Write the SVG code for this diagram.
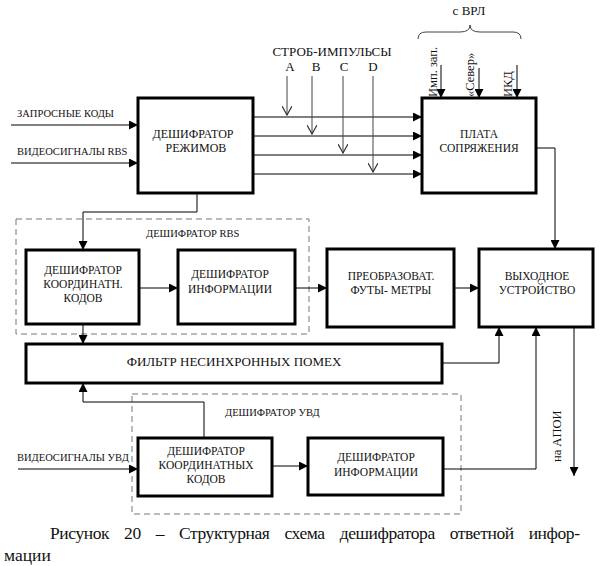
<svg xmlns="http://www.w3.org/2000/svg" width="603" height="566" viewBox="0 0 603 566">
<defs>
<marker id="af" viewBox="0 0 10 10" refX="10" refY="5" markerWidth="9" markerHeight="9" markerUnits="userSpaceOnUse" orient="auto">
<path d="M0,0 L10,5 L0,10 z" fill="#000"/>
</marker>
<marker id="ao" viewBox="0 0 10 10" refX="9" refY="5" markerWidth="10" markerHeight="10" markerUnits="userSpaceOnUse" orient="auto">
<path d="M0,0 L9,5 L0,10" fill="none" stroke="#333" stroke-width="1.2"/>
</marker>
<style>
.box{fill:#fff;stroke:#000;stroke-width:3}
.dash{fill:none;stroke:#777;stroke-width:1;stroke-dasharray:6 4}
.ln{fill:none;stroke:#000;stroke-width:1}
.gl{fill:none;stroke:#444;stroke-width:1}
.t{font-family:'Liberation Serif',serif;font-size:11.5px;text-anchor:middle;fill:#111}
.s{font-family:'Liberation Serif',serif;font-size:10.5px;fill:#111}
.m{font-family:'Liberation Serif',serif;font-size:12.5px;fill:#111}
.cap{font-family:'Liberation Serif',serif;font-size:17.5px;fill:#111}
</style>
</defs>
<rect width="603" height="566" fill="#fff"/>

<g id="rbs-group">
<rect class="dash" x="16" y="219" width="293" height="115"/>
<text class="s" x="146" y="237">ДЕШИФРАТОР RBS</text>
</g>
<g id="uvd-group">
<rect class="dash" x="132" y="394" width="329" height="120"/>
<text class="s" x="225" y="416">ДЕШИФРАТОР  УВД</text>
</g>

<g id="connectors">
<line class="ln" x1="11" y1="125" x2="138" y2="125" marker-end="url(#af)"/>
<line class="ln" x1="11" y1="163" x2="138" y2="163" marker-end="url(#af)"/>
<line class="ln" x1="253" y1="117" x2="422" y2="117" marker-end="url(#af)"/>
<line class="ln" x1="253" y1="136" x2="422" y2="136" marker-end="url(#af)"/>
<line class="ln" x1="253" y1="155" x2="422" y2="155" marker-end="url(#af)"/>
<line class="ln" x1="253" y1="174" x2="422" y2="174" marker-end="url(#af)"/>
<line class="gl" x1="287" y1="76" x2="287" y2="115" marker-end="url(#ao)"/>
<line class="gl" x1="312" y1="76" x2="312" y2="134" marker-end="url(#ao)"/>
<line class="gl" x1="343" y1="76" x2="343" y2="153" marker-end="url(#ao)"/>
<line class="gl" x1="373" y1="76" x2="373" y2="172" marker-end="url(#ao)"/>
<line class="ln" x1="441" y1="65" x2="441" y2="98" marker-end="url(#af)"/>
<line class="ln" x1="479" y1="68" x2="479" y2="98" marker-end="url(#af)"/>
<line class="ln" x1="517" y1="65" x2="517" y2="98" marker-end="url(#af)"/>
<polyline class="ln" points="536,148 555,148 555,249" marker-end="url(#af)"/>
<polyline class="ln" points="197,193 197,212 83,212 83,250" marker-end="url(#af)"/>
<line class="ln" x1="139" y1="288" x2="178" y2="288" marker-end="url(#af)"/>
<line class="ln" x1="295" y1="288" x2="327" y2="288" marker-end="url(#af)"/>
<line class="ln" x1="454" y1="288" x2="479" y2="288" marker-end="url(#af)"/>
<line class="ln" x1="83" y1="324" x2="83" y2="344" marker-end="url(#af)"/>
<polyline class="ln" points="442,363 499,363 499,327" marker-end="url(#af)"/>
<polyline class="ln" points="204,438 204,402 83,402 83,383" marker-end="url(#af)"/>
<line class="ln" x1="18" y1="469" x2="138" y2="469" marker-end="url(#af)"/>
<line class="ln" x1="272" y1="466" x2="308" y2="466" marker-end="url(#af)"/>
<polyline class="ln" points="443,469 536,469 536,327" marker-end="url(#af)"/>
<line class="ln" x1="574" y1="327" x2="574" y2="476" marker-end="url(#af)"/>
<path class="gl" d="M418,39 Q418,32 426,32 L460,32 Q470,32 470,25 Q470,32 480,32 L513,32 Q521,32 521,39"/>
</g>

<g id="labels">
<text class="s" x="17" y="117">ЗАПРОСНЫЕ  КОДЫ</text>
<text class="s" x="17" y="155">ВИДЕОСИГНАЛЫ RBS</text>
<text class="s" x="17" y="461">ВИДЕОСИГНАЛЫ УВД</text>
<text class="m" x="332" y="56" text-anchor="middle" style="font-size:13px">СТРОБ-ИМПУЛЬСЫ</text>
<text class="m" x="290" y="71" text-anchor="middle" style="font-size:13px">A</text>
<text class="m" x="316" y="71" text-anchor="middle" style="font-size:13px">B</text>
<text class="m" x="344" y="71" text-anchor="middle" style="font-size:13px">C</text>
<text class="m" x="373" y="71" text-anchor="middle" style="font-size:13px">D</text>
<text class="m" x="469" y="15" text-anchor="middle" style="font-size:13px">с ВРЛ</text>
<text class="m" transform="translate(437,97) rotate(-90)">Имп. зап.</text>
<text class="m" transform="translate(474,97) rotate(-90)">«Север»</text>
<text class="m" transform="translate(512,97) rotate(-90)">ИКД</text>
<text class="m" transform="translate(561,462) rotate(-90)">на  АПОИ</text>
</g>

<g id="mode-decoder">
<rect class="box" x="138" y="98" width="115" height="95"/>
<text class="t" x="193" y="138" style="font-size:12px">ДЕШИФРАТОР</text>
<text class="t" x="196" y="152" style="font-size:12px">РЕЖИМОВ</text>
</g>
<g id="interface-board">
<rect class="box" x="422" y="98" width="114" height="95"/>
<text class="t" x="479" y="138">ПЛАТА</text>
<text class="t" x="479" y="152">СОПРЯЖЕНИЯ</text>
</g>
<g id="rbs-coord">
<rect class="box" x="26" y="250" width="113" height="74"/>
<text class="t" x="83" y="274">ДЕШИФРАТОР</text>
<text class="t" x="83" y="288">КООРДИНАТН.</text>
<text class="t" x="83" y="302">КОДОВ</text>
</g>
<g id="rbs-info">
<rect class="box" x="178" y="250" width="117" height="74"/>
<text class="t" x="230" y="278">ДЕШИФРАТОР</text>
<text class="t" x="230" y="293">ИНФОРМАЦИИ</text>
</g>
<g id="converter">
<rect class="box" x="327" y="249" width="127" height="78"/>
<text class="t" x="391" y="280">ПРЕОБРАЗОВАТ.</text>
<text class="t" x="391" y="294">ФУТЫ- МЕТРЫ</text>
</g>
<g id="output-device">
<rect class="box" x="479" y="249" width="114" height="78"/>
<text class="t" x="537" y="280">ВЫХОДНОЕ</text>
<text class="t" x="537" y="294">УСТРОЙСТВО</text>
</g>
<g id="filter">
<rect class="box" x="26" y="344" width="416" height="39"/>
<text class="t" x="234" y="366" style="font-size:13px">ФИЛЬТР НЕСИНХРОННЫХ ПОМЕХ</text>
</g>
<g id="uvd-coord">
<rect class="box" x="138" y="438" width="134" height="58"/>
<text class="t" x="206" y="455">ДЕШИФРАТОР</text>
<text class="t" x="206" y="469">КООРДИНАТНЫХ</text>
<text class="t" x="206" y="483">КОДОВ</text>
</g>
<g id="uvd-info">
<rect class="box" x="308" y="438" width="135" height="57"/>
<text class="t" x="376" y="461">ДЕШИФРАТОР</text>
<text class="t" x="376" y="476">ИНФОРМАЦИИ</text>
</g>

<g id="caption">
<text class="cap" x="50" y="539" word-spacing="11" textLength="530" lengthAdjust="spacing">Рисунок 20 – Структурная схема дешифратора ответной инфор-</text>
<text class="cap" x="4" y="561">мации</text>
</g>
</svg>
